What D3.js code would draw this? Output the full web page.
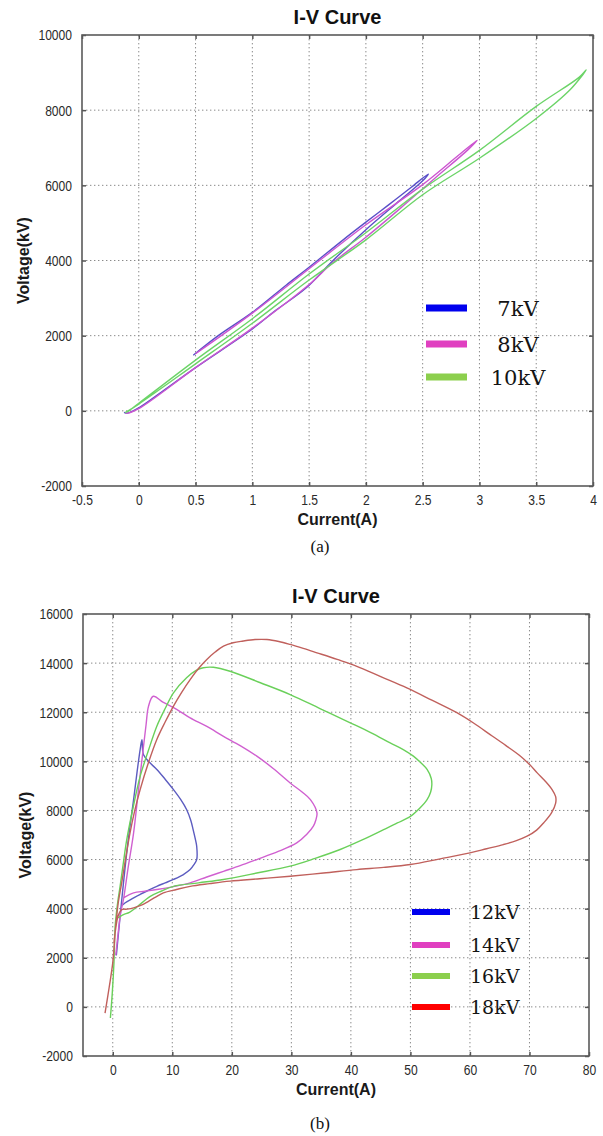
<!DOCTYPE html>
<html><head><meta charset="utf-8">
<script src="https://cdn.jsdelivr.net/npm/d3@7"></script>
<style>
body{margin:0;background:#fff}
svg{display:block}
.tick text{font-family:"Liberation Sans",Arial,sans-serif;font-size:15.5px;fill:#2a2a2a}
</style>
</head><body>
<svg id="fig" width="603" height="1136"></svg>
<script>
// ---------- panel (a): low-voltage I-V loops ----------
const xTicksA = [-0.5, 0, 0.5, 1, 1.5, 2, 2.5, 3, 3.5, 4];
const xTickLabelsA = ["-0.5", "0", "0.5", "1", "1.5", "2", "2.5", "3", "3.5", "4"];
const yTicksA = [-2000, 0, 2000, 4000, 6000, 8000, 10000];
const seriesA = ["7kV", "8kV", "10kV"];

// [current (A), voltage (kV)]
const iv7kV = [[0.48,1480],[0.7,2000],[1.0,2620],[1.3,3350],[1.5,3820],[1.8,4550],[2.0,5020],[2.2,5480],[2.4,5950],[2.55,6300],
  [2.5,6120],[2.3,5600],[2.0,4820],[1.7,3970],[1.47,3260],[1.2,2660],[1.0,2180],[0.5,1150],[0.2,500],[0.0,80],[-0.1,-60],[-0.13,-40]];
const iv8kV = [[0.5,1520],[1.0,2600],[1.5,3780],[2.0,4950],[2.5,6020],[2.8,6760],[2.98,7200],
  [2.9,6950],[2.6,6170],[2.3,5380],[2.0,4620],[1.7,3920],[1.5,3360],[1.0,2200],[0.5,1150],[0.0,60],[-0.1,-60],[-0.12,-50]];
const iv10kV = [[-0.12,-50],[0.0,180],[0.5,1250],[1.0,2330],[1.5,3480],[2.0,4550],[2.5,5750],[3.0,6720],[3.5,7780],[3.8,8550],[3.94,9070],
  [3.88,8880],[3.5,8100],[3.0,6930],[2.5,5900],[2.0,4740],[1.5,3640],[1.0,2450],[0.5,1350],[0.0,200],[-0.1,-30]];

// ---------- panel (b): high-voltage I-V loops ----------
const xTicksB = [0, 10, 20, 30, 40, 50, 60, 70, 80];
const yTicksB = [-2000, 0, 2000, 4000, 6000, 8000, 10000, 12000, 14000, 16000];
const seriesB = ["12kV", "14kV", "16kV", "18kV"];

const iv12kV = [[0.6,2100],[1.2,3600],[1.8,5050],[2.6,6800],[3.5,8440],[4.1,9600],[4.6,10480],[4.9,10880],
  [5.15,10280],[6.2,9950],[7.4,9670],[8.8,9270],[10.2,8850],[11.4,8450],[12.4,8040],[13.1,7600],[13.5,7220],[13.9,6800],[14.1,6540],[14.1,6000],
  [13.6,5780],[13.0,5590],[11.8,5380],[10.2,5190],[8.8,5050],[7.4,4910],[6.0,4750],[4.6,4580],[3.2,4400],[2.1,4240],[1.4,4100]];
const iv14kV = [[0.5,2100],[0.9,3000],[1.3,3800],[1.8,4380],[2.6,5700],[3.5,7090],[4.3,8800],[5.1,10480],[5.6,11500],[6.0,12240],[6.8,12650],
  [8.5,12400],[10.8,12110],[13.0,11770],[15.8,11420],[18.6,11020],[21.4,10640],[24.2,10210],[27.0,9700],[29.8,9120],[31.8,8750],[33.2,8440],[34.3,7900],
  [34.1,7600],[33.7,7360],[32.6,7030],[30.9,6680],[27.8,6330],[24.2,6000],[21.4,5750],[18.6,5520],[15.8,5290],[13.0,5050],[10.2,4900],[7.4,4780],[5.4,4710],[3.5,4640],[1.8,4440]];
const iv16kV = [[-0.4,-450],[-0.1,500],[0.2,1800],[0.4,3280],[0.8,4200],[1.23,4910],[1.8,5900],[2.35,6810],[3.4,8100],[4.6,9390],[6.0,10450],[7.4,11430],[8.8,12150],
  [10.2,12790],[12.4,13400],[14.0,13700],[15.2,13810],[16.9,13830],[19.7,13670],[24.8,13200],[29.8,12720],[34.8,12150],[39.9,11570],[43.5,11150],[46.6,10750],
  [48.8,10480],[50.5,10210],[51.8,9930],[52.8,9670],[53.5,9300],[53.6,9050],[53.4,8750],[52.8,8440],[51.6,8100],[50.0,7760],[47.8,7490],[45.5,7220],[41.9,6800],[38.2,6410],[34.0,6050],[29.8,5730],
  [24.2,5450],[18.6,5190],[14.4,5050],[10.2,4910],[8.2,4720],[6.3,4500],[4.2,4100],[2.8,3850],[1.8,3760],[1.0,3650],[0.5,3600]];
const iv18kV = [[-1.3,-250],[-0.6,800],[0.0,1800],[0.4,3000],[0.9,4200],[1.5,5050],[2.2,6100],[2.9,7090],[3.7,8000],[4.6,8850],[6.0,9950],[7.4,10890],[8.8,11600],
  [10.2,12250],[11.6,12820],[13.0,13330],[14.4,13780],[15.8,14150],[17.2,14450],[18.6,14690],[20.2,14830],[21.9,14900],[23.9,14960],[25.9,14960],[27.9,14880],
  [29.8,14760],[32.0,14600],[34.3,14420],[37.7,14150],[41.0,13870],[45.2,13430],[49.4,12990],[53.6,12490],[57.8,11980],[60.6,11560],[63.4,11090],[66.0,10650],
  [68.5,10210],[70.1,9850],[71.3,9530],[72.7,9180],[73.8,8850],[74.4,8560],[74.4,8300],[73.7,7900],[72.4,7500],[71.2,7200],[69.6,6950],[67.8,6770],[65.6,6610],[62.8,6440],
  [60.0,6270],[55.0,6030],[50.0,5800],[45.5,5680],[41.0,5590],[35.4,5450],[29.8,5320],[24.7,5220],[19.7,5120],[16.3,5020],[13.0,4910],[10.7,4780],[8.5,4640],[7.2,4470],
  [6.0,4300],[4.7,4130],[3.5,4030],[2.4,3980],[1.5,3960],[0.9,3700],[0.5,3200],[0.2,2600]];

const curveColorsA = ["#5a4fc8", "#cc55d0", "#6cd468"];
const curveColorsB = ["#5c5cc0", "#d060d0", "#6ad05a", "#c0605c"];
const legendColorsA = ["#0000ee", "#e040c0", "#8ccf4d"];
const legendColorsB = ["#0000ee", "#e040c0", "#8ccf4d", "#ff0000"];

const svg = d3.select("#fig");
const squeeze = 0.78;   // narrow tick-label face

function drawPanel(cfg) {
  const x = d3.scaleLinear().domain(cfg.xDomain).range([cfg.left, cfg.right]);
  const y = d3.scaleLinear().domain(cfg.yDomain).range([cfg.bottom, cfg.top]);
  const g = svg.append("g");

  // dotted grid
  const grid = g.append("g").attr("stroke", "#8a8a8a").attr("stroke-width", 1).attr("stroke-dasharray", "1.4,2.6");
  grid.selectAll("line.gx").data(cfg.xTicks.filter(d => d > cfg.xDomain[0] && d < cfg.xDomain[1]))
    .join("line").attr("x1", d => x(d)).attr("x2", d => x(d)).attr("y1", cfg.top).attr("y2", cfg.bottom);
  grid.selectAll("line.gy").data(cfg.yTicks.filter(d => d > cfg.yDomain[0] && d < cfg.yDomain[1]))
    .join("line").attr("x1", cfg.left).attr("x2", cfg.right).attr("y1", d => y(d)).attr("y2", d => y(d));

  // curves
  const line = d3.line().x(d => x(d[0])).y(d => y(d[1])).curve(d3.curveCatmullRom.alpha(0.5));
  cfg.series.forEach((s, i) => {
    g.append("path").datum(s).attr("d", line).attr("fill", "none")
      .attr("stroke", cfg.curveColors[i]).attr("stroke-width", 1.4).attr("stroke-linejoin", "round");
  });

  // legend (no box, drawn over the grid)
  cfg.names.forEach((n, i) => {
    const ly = cfg.legend.y[i];
    g.append("line").attr("x1", cfg.legend.x1).attr("x2", cfg.legend.x2).attr("y1", ly).attr("y2", ly)
      .attr("stroke", cfg.legendColors[i]).attr("stroke-width", cfg.legend.thick);
    g.append("text").attr("x", cfg.legend.tx).attr("y", ly).attr("dy", "0.36em")
      .attr("text-anchor", cfg.legend.anchor)
      .attr("font-family", "'DejaVu Serif', 'Liberation Serif', serif").attr("font-size", cfg.legend.size)
      .attr("fill", "#141414").text(n);
  });

  // axes with inward ticks on all four sides
  const tl = 4;
  const xb = g.append("g").attr("transform", `translate(0,${cfg.bottom})`)
    .call(d3.axisBottom(x).tickValues(cfg.xTicks).tickSizeInner(-tl).tickSizeOuter(0).tickPadding(8).tickFormat((d, i) => cfg.xLabels[i]));
  xb.selectAll(".tick text").attr("transform", `scale(${squeeze},1)`);
  g.append("g").attr("transform", `translate(0,${cfg.top})`)
    .call(d3.axisTop(x).tickValues(cfg.xTicks).tickSizeInner(-tl).tickSizeOuter(0).tickFormat(""));
  const yl = g.append("g").attr("transform", `translate(${cfg.left},0)`)
    .call(d3.axisLeft(y).tickValues(cfg.yTicks).tickSizeInner(-tl).tickSizeOuter(0).tickFormat(d => String(d)));
  yl.selectAll(".tick text").attr("x", -10 / squeeze).attr("transform", `scale(${squeeze},1)`);
  g.append("g").attr("transform", `translate(${cfg.right},0)`)
    .call(d3.axisRight(y).tickValues(cfg.yTicks).tickSizeInner(-tl).tickSizeOuter(0).tickFormat(""));
  g.selectAll(".domain").remove();
  g.selectAll(".tick line").attr("stroke", "#555").attr("stroke-width", 1.5);

  // frame
  g.append("rect").attr("x", cfg.left).attr("y", cfg.top).attr("width", cfg.right - cfg.left).attr("height", cfg.bottom - cfg.top)
    .attr("fill", "none").attr("stroke", "#5a5a5a").attr("stroke-width", 1.6);

  // titles and labels
  const cx = (cfg.left + cfg.right) / 2;
  g.append("text").attr("x", cx).attr("y", cfg.top - 18).attr("dy", "0.35em").attr("text-anchor", "middle")
    .attr("font-family", "'Liberation Sans', Arial, sans-serif").attr("font-weight", "bold").attr("font-size", 20)
    .attr("fill", "#111").text(cfg.title);
  g.append("text").attr("x", cx).attr("y", cfg.xLabelY).attr("dy", "0.35em").attr("text-anchor", "middle")
    .attr("font-family", "'Liberation Sans', Arial, sans-serif").attr("font-weight", "bold").attr("font-size", 16)
    .attr("fill", "#1a1a1a").text("Current(A)");
  g.append("text").attr("transform", `translate(${cfg.yLabelX},${(cfg.top + cfg.bottom) / 2}) rotate(-90)`)
    .attr("dy", "0.35em").attr("text-anchor", "middle")
    .attr("font-family", "'Liberation Sans', Arial, sans-serif").attr("font-weight", "bold").attr("font-size", 16)
    .attr("fill", "#1a1a1a").text("Voltage(kV)");
  g.append("text").attr("x", cfg.capX).attr("y", cfg.capY).attr("dy", "0.35em").attr("text-anchor", "middle")
    .attr("font-family", "'Liberation Serif', 'Times New Roman', serif").attr("font-size", 17)
    .attr("fill", "#111").text(cfg.caption);
}

drawPanel({
  left: 82, right: 593, top: 35, bottom: 486,
  xDomain: [-0.5, 4], yDomain: [-2000, 10000],
  xTicks: xTicksA, xLabels: xTickLabelsA, yTicks: yTicksA,
  series: [iv7kV, iv8kV, iv10kV], names: seriesA,
  curveColors: curveColorsA, legendColors: legendColorsA,
  legend: { x1: 426, x2: 467, y: [308, 344, 377], tx: 518, anchor: "middle", size: 21, thick: 7 },
  title: "I-V Curve", xLabelY: 519, yLabelX: 23, caption: "(a)", capX: 320, capY: 546
});

drawPanel({
  left: 83, right: 589, top: 614, bottom: 1056,
  xDomain: [-5, 80], yDomain: [-2000, 16000],
  xTicks: xTicksB, xLabels: xTicksB.map(String), yTicks: yTicksB,
  series: [iv12kV, iv14kV, iv16kV, iv18kV], names: seriesB,
  curveColors: curveColorsB, legendColors: legendColorsB,
  legend: { x1: 412, x2: 450, y: [912, 945, 976, 1007], tx: 470, anchor: "start", size: 19, thick: 6 },
  title: "I-V Curve", xLabelY: 1089, yLabelX: 25, caption: "(b)", capX: 320, capY: 1123
});
</script>
</body></html>
